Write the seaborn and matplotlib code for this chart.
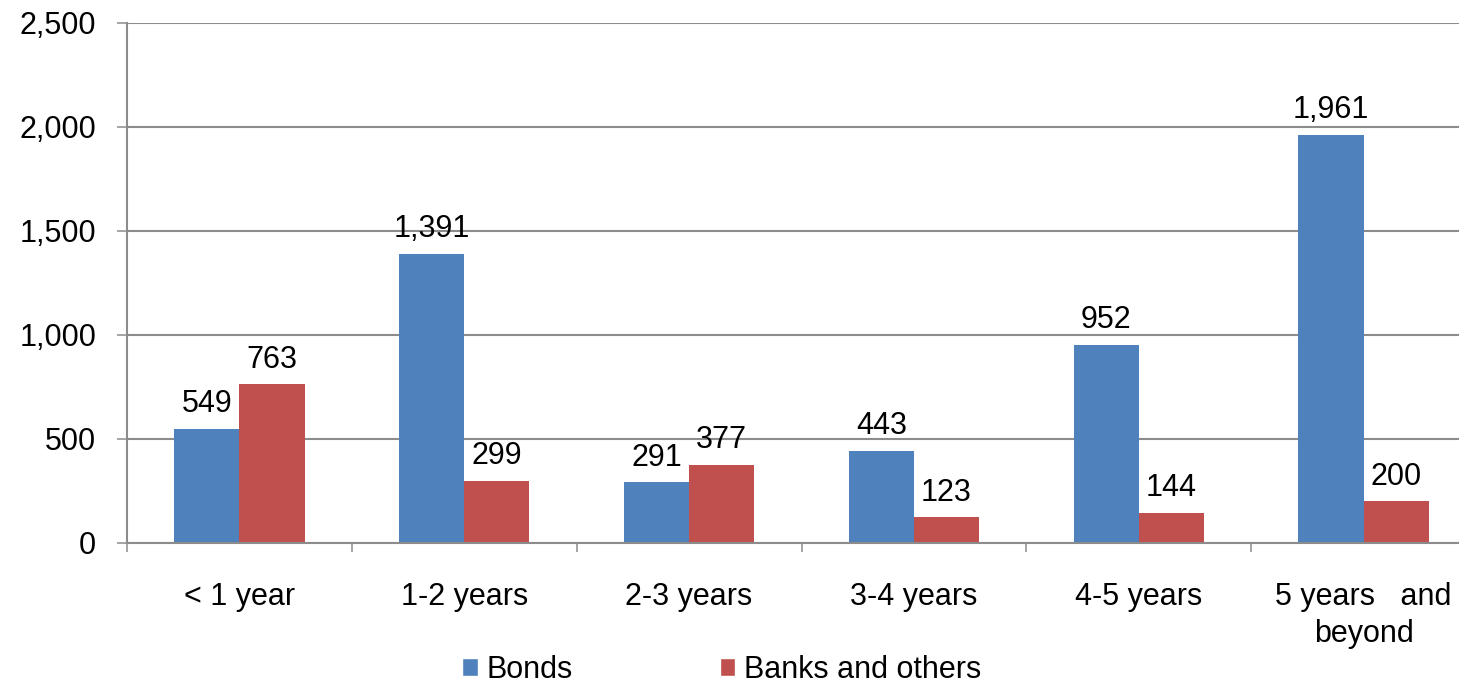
import matplotlib
matplotlib.use("Agg")
import matplotlib.pyplot as plt
import seaborn as sns
import pandas as pd
from matplotlib.patches import Patch

# dados do grafico
categorias = ["< 1 year", "1-2 years", "2-3 years", "3-4 years", "4-5 years", "5 years   and\nbeyond"]
bonds = [549, 1391, 291, 443, 952, 1961]
banks = [763, 299, 377, 123, 144, 200]
series = ["Bonds", "Banks and others"]
cores = ["#4F81BD", "#C0504D"]

df = pd.DataFrame({
    "categoria": categorias * 2,
    "serie": [series[0]] * 6 + [series[1]] * 6,
    "valor": bonds + banks,
})

sns.set_style("white")
plt.rcParams["font.family"] = ["Liberation Sans", "DejaVu Sans"]
plt.rcParams["font.size"] = 22
plt.rcParams["text.color"] = "black"
plt.rcParams["xtick.labelcolor"] = "black"
plt.rcParams["ytick.labelcolor"] = "black"

fig = plt.figure(figsize=(14.59, 6.84), dpi=100)
ax = fig.add_axes([127 / 1459, 141 / 684, 1349 / 1459, 520 / 684])

sns.barplot(data=df, x="categoria", y="valor", hue="serie", palette=cores,
            width=0.58, gap=0, ax=ax, legend=False, saturation=1, linewidth=0)

for cont in ax.containers:
    ax.bar_label(cont, labels=[f"{v:,.0f}" for v in cont.datavalues],
                 padding=7, fontsize=22)

ax.set_ylim(0, 2500)
ax.set_xlim(-0.5, 5.5)
ax.set_yticks(range(0, 2501, 500))
ax.set_yticklabels([f"{v:,}" for v in range(0, 2501, 500)])
ax.yaxis.grid(True, color="#8c8c8c", linewidth=1.5)
ax.set_axisbelow(True)
ax.set_xlabel("")
ax.set_ylabel("")

for s in ["top", "right"]:
    ax.spines[s].set_visible(False)
for s in ["left", "bottom"]:
    ax.spines[s].set_color("#8c8c8c")
    ax.spines[s].set_linewidth(1.5)

# ticks nos limites das categorias
ax.set_xticks([i + 0.5 for i in range(-1, 6)], minor=True)
ax.set_xticks(range(6))
ax.set_xticklabels(categorias, fontsize=22, linespacing=1.3)
ax.tick_params(axis="x", which="major", length=0, pad=28)
ax.tick_params(axis="x", which="minor", length=6.5, width=1.1, color="#8c8c8c", direction="out")
ax.tick_params(axis="y", length=7.2, width=1.1, color="#8c8c8c", pad=15, labelsize=22)
ax.tick_params(left=True, bottom=True, which="both")

handles = [Patch(facecolor=c, label=s) for c, s in zip(cores, series)]
fig.legend(handles=handles, loc="center", bbox_to_anchor=(722 / 1459, 1 - 670 / 684),
           ncol=2, frameon=False, fontsize=22, handlelength=0.5, handleheight=0.5,
           handletextpad=0.3, columnspacing=4.8, borderpad=0)

fig.savefig("out.png", dpi=100)
